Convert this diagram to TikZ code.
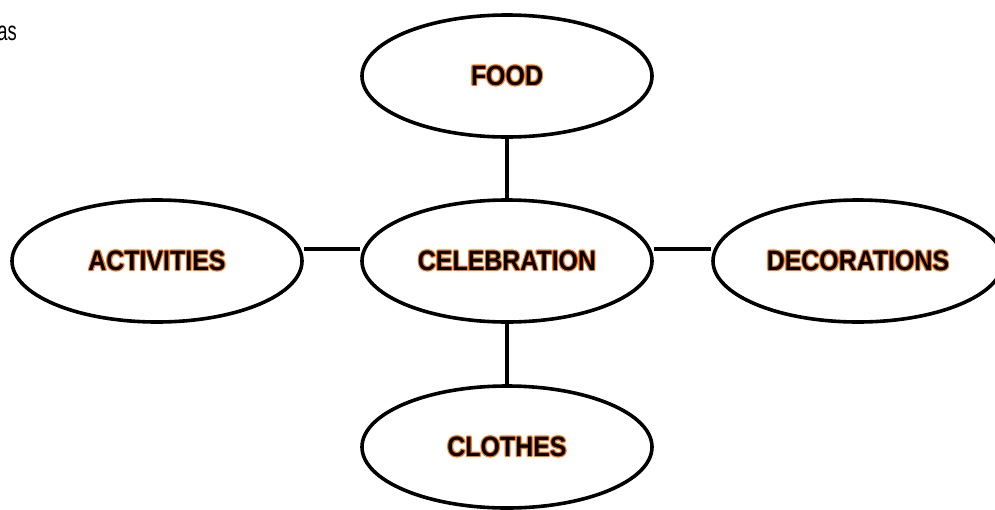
\documentclass[tikz,border=0pt]{standalone}
\usepackage{fontspec}
\usetikzlibrary{shapes.geometric,backgrounds}
\newfontfamily\lblfont{Liberation Sans}[FakeStretch=0.89]
\newfontfamily\cornerfont{Liberation Sans}[FakeStretch=0.68]
\definecolor{orng}{RGB}{255,115,20}
\newcommand\outl[1]{\leavevmode\begingroup
  \def\cp##1##2{\rlap{\kern##1\raisebox{##2}{\textcolor{orng}{#1}}}}%
  \cp{1.1pt}{0pt}\cp{-1.1pt}{0pt}\cp{0pt}{1.1pt}\cp{0pt}{-1.1pt}%
  \cp{0.8pt}{0.8pt}\cp{-0.8pt}{0.8pt}\cp{0.8pt}{-0.8pt}\cp{-0.8pt}{-0.8pt}%
  #1\endgroup}
\begin{document}
\begin{tikzpicture}[x=1pt,y=-1pt,
  bubble/.style={ellipse, draw=black, line width=3.6pt, fill=white,
    minimum width=290pt, minimum height=122pt, inner sep=0pt,
    font=\lblfont\bfseries\fontsize{28}{30}\selectfont},
  link/.style={draw=black, line width=3.6pt}]
\useasboundingbox (0,0) rectangle (995,509);
\node[anchor=base east, inner sep=0pt, font=\cornerfont\fontsize{27}{30}\selectfont] (corner) at (17,40) {as};
\node[bubble] (food) at (507,76) {\outl{FOOD}};
\node[bubble] (cel) at (507,261) {\outl{CELEBRATION}};
\node[bubble] (act) at (157,261) {\outl{ACTIVITIES}};
\node[bubble] (dec) at (858,261) {\outl{DECORATIONS}};
\node[bubble] (clo) at (507,447) {\outl{CLOTHES}};
\begin{scope}[on background layer]
\draw[link] (food.south) -- (cel.north);
\draw[link] (cel.south) -- (clo.north);
\draw[link] ([yshift=12pt]act.east) -- ([yshift=12pt]cel.west);
\draw[link] ([yshift=12pt]cel.east) -- ([yshift=12pt]dec.west);
\end{scope}
\end{tikzpicture}
\end{document}
